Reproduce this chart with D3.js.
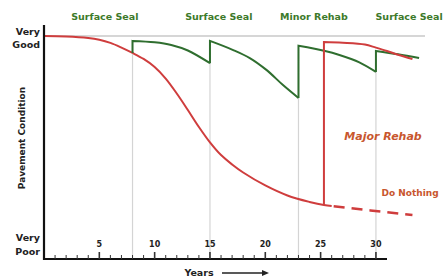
<!DOCTYPE html>
<html>
<head>
<meta charset="utf-8">
<script src="https://cdn.jsdelivr.net/npm/d3@7"></script>
<style>
  html, body { margin: 0; padding: 0; background: #fff; }
  svg { display: block; }
  text { font-family: "DejaVu Sans", sans-serif; font-weight: bold; }
</style>
</head>
<body>
<svg id="chart" width="446" height="280"></svg>
<script>
// ---- data (years, condition 0 = very poor .. 100 = very good) ----
const doNothing = [[0,100],[2,99.8],[4,99.1],[5,98.3],[6,96.9],[7,94.8],[8,92.4],[9,89.7],[10,86.1],[11,80.9],[12,74.2],[13,66.8],[14,59.2],[15,52.3],[16,46.6],[17,42.4],[18,38.8],[20,33.0],[22,28.5],[24,25.6],[25.3,24.2],[26,23.8]];
const doNothingFuture = [[26,23.8],[29.5,21.8],[33.3,19.7]];
const majorRehab = [[25.3,24.2],[25.3,97.3],[27,97.0],[29,96.2],[30,94.8],[31,93.3],[32,91.6],[33.3,89.7]];
const greenSeg1 = [[8,92.4],[8,97.8],[10,97.2],[11.5,96.0],[13,93.5],[15,87.8]];
const greenSeg2 = [[15,87.8],[15,97.8],[17.1,93.7],[18.6,90.1],[20.1,84.8],[21.6,78.0],[23,72.2]];
const greenSeg3 = [[23,72.2],[23,95.6],[25.4,93.3],[26.7,91.5],[28.5,88.2],[30,83.9]];
const greenSeg4 = [[30,83.9],[30,93.3],[32,91.8],[33.9,90.1]];
const treatmentYears = [8, 15, 23, 30];
const treatmentLabels = ["Surface Seal", "Surface Seal", "Minor Rehab", "Surface Seal"];
const treatmentLabelYears = [5.5, 15.8, 24.4, 33.0];
const tickYears = [5, 10, 15, 20, 25, 30];
const minorTickYears = d3.range(1, 31);

// ---- layout ----
const svg = d3.select("#chart");
const x = d3.scaleLinear().domain([0, 31]).range([44, 387]);
const y = d3.scaleLinear().domain([0, 100]).range([259, 36]);

const red = "#cf3d3d";
const green = "#2f6e2f";
const labelGreen = "#3d7a2a";
const orange = "#c8562e";

// top "very good" reference line
svg.append("line")
  .attr("x1", x(0)).attr("x2", 425)
  .attr("y1", y(100)).attr("y2", y(100))
  .attr("stroke", "#c8c8c8").attr("stroke-width", 1.5);

// treatment vertical gray lines
const tops = [97.8, 97.8, 95.6, 93.3];
svg.selectAll(".vline").data(treatmentYears).join("line")
  .attr("x1", d => x(d)).attr("x2", d => x(d))
  .attr("y1", (d, i) => y(tops[i])).attr("y2", y(0))
  .attr("stroke", "#d4d4d4").attr("stroke-width", 1.2);

const line = d3.line().x(d => x(d[0])).y(d => y(d[1])).curve(d3.curveCatmullRom.alpha(0.5));
const lineLin = d3.line().x(d => x(d[0])).y(d => y(d[1]));

function seg(data) {
  // vertical jump then smooth decay
  return lineLin(data.slice(0, 2)) + line(data.slice(1)).replace(/^M/, "L");
}

// do nothing
svg.append("path").attr("d", line(doNothing))
  .attr("fill", "none").attr("stroke", red).attr("stroke-width", 2);
svg.append("path").attr("d", lineLin(doNothingFuture))
  .attr("fill", "none").attr("stroke", red).attr("stroke-width", 2.5)
  .attr("stroke-dasharray", "11,7").attr("stroke-dashoffset", -2);

// green maintenance strategy
[greenSeg1, greenSeg2, greenSeg3, greenSeg4].forEach(s => {
  svg.append("path").attr("d", seg(s))
    .attr("fill", "none").attr("stroke", green).attr("stroke-width", 2);
});

// major rehab
svg.append("path").attr("d", seg(majorRehab))
  .attr("fill", "none").attr("stroke", red).attr("stroke-width", 2);

// axes
svg.append("line").attr("x1", x(0)).attr("x2", x(0)).attr("y1", 25).attr("y2", y(0) + 1)
  .attr("stroke", "#111").attr("stroke-width", 2.2);
svg.append("line").attr("x1", x(0) - 1).attr("x2", x(31)).attr("y1", y(0)).attr("y2", y(0))
  .attr("stroke", "#111").attr("stroke-width", 2.2);

svg.selectAll(".mt").data(minorTickYears).join("line")
  .attr("x1", d => x(d)).attr("x2", d => x(d))
  .attr("y1", d => y(0) - (d % 5 === 0 ? 7 : 4)).attr("y2", y(0))
  .attr("stroke", "#333").attr("stroke-width", d => d % 5 === 0 ? 1.6 : 1);

svg.selectAll(".tl").data(tickYears).join("text")
  .attr("x", d => x(d)).attr("y", 247)
  .attr("text-anchor", "middle").attr("font-size", 8).attr("fill", "#222")
  .text(d => d);

// y labels
const yl = [["Very", 35], ["Good", 48], ["Very", 241], ["Poor", 255]];
svg.selectAll(".yl").data(yl).join("text")
  .attr("x", 40).attr("y", d => d[1]).attr("text-anchor", "end")
  .attr("font-size", 9.5).attr("fill", "#222").text(d => d[0]);

svg.append("text")
  .attr("transform", "translate(25,138) rotate(-90)")
  .attr("text-anchor", "middle").attr("font-size", 9).attr("fill", "#222")
  .text("Pavement Condition");

// x title + arrow
svg.append("text").attr("x", 199).attr("y", 276).attr("text-anchor", "middle")
  .attr("font-size", 9.5).attr("fill", "#222").text("Years");
svg.append("line").attr("x1", 222).attr("x2", 262).attr("y1", 273).attr("y2", 273)
  .attr("stroke", "#222").attr("stroke-width", 1.3);
svg.append("path").attr("d", "M262,270 L269,273 L262,276 Z").attr("fill", "#222");

// treatment labels
svg.selectAll(".tlab").data(treatmentLabels).join("text")
  .attr("x", (d, i) => x(treatmentLabelYears[i])).attr("y", 20)
  .attr("text-anchor", "middle").attr("font-size", 9.5).attr("fill", labelGreen)
  .text(d => d);

svg.append("text").attr("x", 383).attr("y", 140).attr("text-anchor", "middle")
  .attr("font-size", 11).attr("font-style", "italic").attr("fill", orange)
  .text("Major Rehab");
svg.append("text").attr("x", 410).attr("y", 196).attr("text-anchor", "middle")
  .attr("font-size", 9).attr("fill", orange)
  .text("Do Nothing");
</script>
</body>
</html>
